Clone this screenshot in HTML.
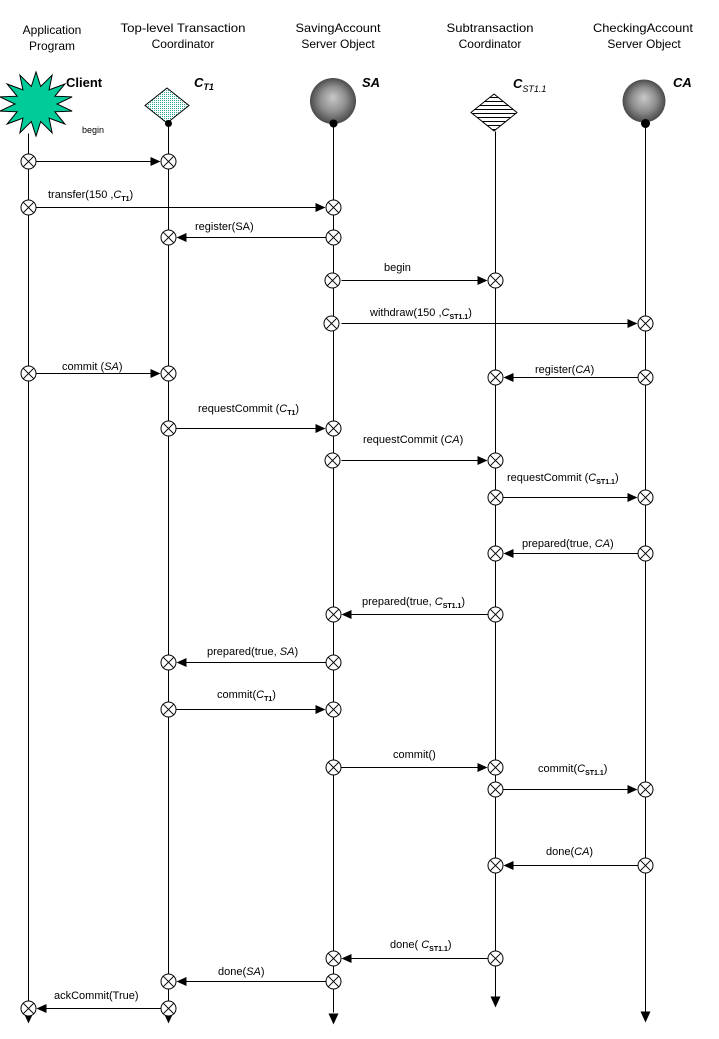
<!DOCTYPE html>
<html><head><meta charset="utf-8"><style>
html,body{margin:0;padding:0;background:#fff;}
svg{display:block;}
text{font-family:"Liberation Sans",Arial,sans-serif;fill:#000;}
.h{font-size:12px;}
.m{font-size:11px;}
.sub{font-size:7px;font-weight:bold;}
.it{font-style:italic;}
</style></head><body>
<svg width="719" height="1039" viewBox="0 0 719 1039" xmlns="http://www.w3.org/2000/svg">
<defs>
  <radialGradient id="sph" cx="0.5" cy="0.5" r="0.5" fx="0.5" fy="0.42">
    <stop offset="0" stop-color="#c8c8c8"/>
    <stop offset="0.55" stop-color="#909090"/>
    <stop offset="1" stop-color="#4a4a4a"/>
  </radialGradient>
  <pattern id="dots" width="2" height="2" patternUnits="userSpaceOnUse">
    <rect width="2" height="2" fill="#ffffff"/>
    <rect x="0" y="0" width="1" height="1" fill="#2aa890"/>
  </pattern>
  <pattern id="stripes" width="4" height="4" patternUnits="userSpaceOnUse" y="0">
    <rect width="4" height="4" fill="#ffffff"/>
    <rect x="0" y="1" width="4" height="1" fill="#000"/>
  </pattern>
  <g id="cx">
    <circle cx="0" cy="0" r="7.5" fill="#fff" stroke="#000" stroke-width="1"/>
    <line x1="-5.3" y1="-5.3" x2="5.3" y2="5.3" stroke="#000" stroke-width="1"/>
    <line x1="-5.3" y1="5.3" x2="5.3" y2="-5.3" stroke="#000" stroke-width="1"/>
  </g>
</defs>

<!-- Header labels -->
<text class="h" x="52" y="34" text-anchor="middle">Application</text>
<text class="h" x="52" y="50" text-anchor="middle">Program</text>
<text class="h" x="183" y="32" text-anchor="middle" textLength="125" lengthAdjust="spacingAndGlyphs">Top-level Transaction</text>
<text class="h" x="183" y="48" text-anchor="middle">Coordinator</text>
<text class="h" x="338" y="32" text-anchor="middle" textLength="85" lengthAdjust="spacingAndGlyphs">SavingAccount</text>
<text class="h" x="338" y="48" text-anchor="middle">Server Object</text>
<text class="h" x="490" y="32" text-anchor="middle" textLength="87" lengthAdjust="spacingAndGlyphs">Subtransaction</text>
<text class="h" x="490" y="48" text-anchor="middle">Coordinator</text>
<text class="h" x="643" y="32" text-anchor="middle" textLength="100" lengthAdjust="spacingAndGlyphs">CheckingAccount</text>
<text class="h" x="644" y="48" text-anchor="middle">Server Object</text>

<!-- Object icons -->
<polygon fill="#00cc99" stroke="#000" stroke-width="1" points="36,72 40.7,86.5 52.1,75.2 49.1,89.9 64.9,84 54.9,96.2 72.1,96.9 57,104 72.1,111.1 54.9,111.8 64.9,124 49.1,118.1 52.1,132.8 40.7,121.5 36,136 31.3,121.5 19.9,132.8 22.9,118.1 7.1,124 17.1,111.8 0,111.1 15,104 0,96.9 17.1,96.2 7.1,84 22.9,89.9 19.9,75.2 31.3,86.5"/>
<text x="66" y="87" style="font-size:13px;font-weight:bold;">Client</text>

<polygon points="167,88 189,105.5 167,123 145,105.5" fill="url(#dots)" stroke="#000" stroke-width="1"/>
<text x="194" y="87" style="font-size:13px;font-weight:bold;font-style:italic;">C<tspan dy="3" style="font-size:9px;">T1</tspan></text>

<circle cx="333" cy="101" r="23" fill="url(#sph)"/>
<text x="362" y="87" style="font-size:13px;font-weight:bold;font-style:italic;">SA</text>

<polygon points="494,94 517,112.5 494,131 471,112.5" fill="url(#stripes)" stroke="#000" stroke-width="1"/>
<text x="513" y="88" style="font-size:13px;font-weight:bold;font-style:italic;">C<tspan dy="4" style="font-size:9px;font-weight:normal;">ST1.1</tspan></text>

<circle cx="644" cy="101" r="21.5" fill="url(#sph)"/>
<text x="673" y="87" style="font-size:13px;font-weight:bold;font-style:italic;">CA</text>

<g transform="translate(0.5,0.5)">
<!-- Lifelines -->
<g stroke="#000" stroke-width="1" shape-rendering="crispEdges">
  <line x1="28" y1="133" x2="28" y2="1012"/>
  <line x1="168" y1="123" x2="168" y2="1012"/>
  <line x1="333" y1="123" x2="333" y2="1012"/>
  <line x1="495" y1="131" x2="495" y2="996"/>
  <line x1="645" y1="123" x2="645" y2="1011"/>
</g>
<circle cx="168" cy="123" r="3.5" fill="#000"/>
<circle cx="333" cy="123" r="4" fill="#000"/>
<circle cx="645" cy="123" r="4.5" fill="#000"/>

<!-- bottom arrows -->
<polygon points="28,1023 23,1012 33,1012" fill="#000"/>
<polygon points="168,1023 163,1012 173,1012" fill="#000"/>
<polygon points="333,1024 328,1013 338,1013" fill="#000"/>
<polygon points="495,1007 490,996 500,996" fill="#000"/>
<polygon points="645,1022 640,1011 650,1011" fill="#000"/>

<!-- Message lines -->
<g stroke="#000" stroke-width="1" shape-rendering="crispEdges">
  <line x1="36" y1="161" x2="150" y2="161"/>
  <line x1="36" y1="207" x2="315" y2="207"/>
  <line x1="186" y1="237" x2="325" y2="237"/>
  <line x1="341" y1="280" x2="477" y2="280"/>
  <line x1="341" y1="323" x2="627" y2="323"/>
  <line x1="36" y1="373" x2="150" y2="373"/>
  <line x1="513" y1="377" x2="637" y2="377"/>
  <line x1="176" y1="428" x2="315" y2="428"/>
  <line x1="341" y1="460" x2="477" y2="460"/>
  <line x1="503" y1="497" x2="627" y2="497"/>
  <line x1="513" y1="553" x2="637" y2="553"/>
  <line x1="351" y1="614" x2="487" y2="614"/>
  <line x1="186" y1="662" x2="325" y2="662"/>
  <line x1="176" y1="709" x2="315" y2="709"/>
  <line x1="341" y1="767" x2="477" y2="767"/>
  <line x1="503" y1="789" x2="627" y2="789"/>
  <line x1="513" y1="865" x2="637" y2="865"/>
  <line x1="351" y1="958" x2="487" y2="958"/>
  <line x1="186" y1="981" x2="325" y2="981"/>
  <line x1="46" y1="1008" x2="160" y2="1008"/>
</g>

<!-- Arrowheads -->
<g fill="#000">
  <polygon points="160,161 150,156.5 150,165.5"/>
  <polygon points="325,207 315,202.5 315,211.5"/>
  <polygon points="176,237 186,232.5 186,241.5"/>
  <polygon points="487,280 477,275.5 477,284.5"/>
  <polygon points="637,323 627,318.5 627,327.5"/>
  <polygon points="160,373 150,368.5 150,377.5"/>
  <polygon points="503,377 513,372.5 513,381.5"/>
  <polygon points="325,428 315,423.5 315,432.5"/>
  <polygon points="487,460 477,455.5 477,464.5"/>
  <polygon points="637,497 627,492.5 627,501.5"/>
  <polygon points="503,553 513,548.5 513,557.5"/>
  <polygon points="341,614 351,609.5 351,618.5"/>
  <polygon points="176,662 186,657.5 186,666.5"/>
  <polygon points="325,709 315,704.5 315,713.5"/>
  <polygon points="487,767 477,762.5 477,771.5"/>
  <polygon points="637,789 627,784.5 627,793.5"/>
  <polygon points="503,865 513,860.5 513,869.5"/>
  <polygon points="341,958 351,953.5 351,962.5"/>
  <polygon points="176,981 186,976.5 186,985.5"/>
  <polygon points="36,1008 46,1003.5 46,1012.5"/>
</g>

<!-- Circles -->
<use href="#cx" x="28" y="161"/><use href="#cx" x="168" y="161"/>
<use href="#cx" x="28" y="207"/><use href="#cx" x="333" y="207"/>
<use href="#cx" x="333" y="237"/><use href="#cx" x="168" y="237"/>
<use href="#cx" x="332" y="280"/><use href="#cx" x="495" y="280"/>
<use href="#cx" x="331" y="323"/><use href="#cx" x="645" y="323"/>
<use href="#cx" x="28" y="373"/><use href="#cx" x="168" y="373"/>
<use href="#cx" x="645" y="377"/><use href="#cx" x="495" y="377"/>
<use href="#cx" x="168" y="428"/><use href="#cx" x="333" y="428"/>
<use href="#cx" x="332" y="460"/><use href="#cx" x="495" y="460"/>
<use href="#cx" x="495" y="497"/><use href="#cx" x="645" y="497"/>
<use href="#cx" x="645" y="553"/><use href="#cx" x="495" y="553"/>
<use href="#cx" x="495" y="614"/><use href="#cx" x="333" y="614"/>
<use href="#cx" x="333" y="662"/><use href="#cx" x="168" y="662"/>
<use href="#cx" x="168" y="709"/><use href="#cx" x="333" y="709"/>
<use href="#cx" x="333" y="767"/><use href="#cx" x="495" y="767"/>
<use href="#cx" x="495" y="789"/><use href="#cx" x="645" y="789"/>
<use href="#cx" x="645" y="865"/><use href="#cx" x="495" y="865"/>
<use href="#cx" x="495" y="958"/><use href="#cx" x="333" y="958"/>
<use href="#cx" x="333" y="981"/><use href="#cx" x="168" y="981"/>
<use href="#cx" x="168" y="1008"/><use href="#cx" x="28" y="1008"/>
</g>

<!-- Message labels -->
<text x="82" y="133" style="font-size:9px;">begin</text>
<text class="m" x="48" y="198">transfer(150 ,<tspan class="it">C</tspan><tspan class="sub" dy="3">T1</tspan><tspan dy="-3">)</tspan></text>
<text class="m" x="195" y="230">register(SA)</text>
<text class="m" x="384" y="271">begin</text>
<text class="m" x="370" y="316">withdraw(150 ,<tspan class="it">C</tspan><tspan class="sub" dy="3">ST1.1</tspan><tspan dy="-3">)</tspan></text>
<text class="m" x="62" y="370">commit (<tspan class="it">SA</tspan>)</text>
<text class="m" x="535" y="373">register(<tspan class="it">CA</tspan>)</text>
<text class="m" x="198" y="412">requestCommit (<tspan class="it">C</tspan><tspan class="sub" dy="3">T1</tspan><tspan dy="-3">)</tspan></text>
<text class="m" x="363" y="443">requestCommit (<tspan class="it">CA</tspan>)</text>
<text class="m" x="507" y="481">requestCommit (<tspan class="it">C</tspan><tspan class="sub" dy="3">ST1.1</tspan><tspan dy="-3">)</tspan></text>
<text class="m" x="522" y="547">prepared(true, <tspan class="it">CA</tspan>)</text>
<text class="m" x="362" y="605">prepared(true, <tspan class="it">C</tspan><tspan class="sub" dy="3">ST1.1</tspan><tspan dy="-3">)</tspan></text>
<text class="m" x="207" y="655">prepared(true, <tspan class="it">SA</tspan>)</text>
<text class="m" x="217" y="698">commit(<tspan class="it">C</tspan><tspan class="sub" dy="3">T1</tspan><tspan dy="-3">)</tspan></text>
<text class="m" x="393" y="758">commit()</text>
<text class="m" x="538" y="772">commit(<tspan class="it">C</tspan><tspan class="sub" dy="3">ST1.1</tspan><tspan dy="-3">)</tspan></text>
<text class="m" x="546" y="855">done(<tspan class="it">CA</tspan>)</text>
<text class="m" x="390" y="948">done( <tspan class="it">C</tspan><tspan class="sub" dy="3">ST1.1</tspan><tspan dy="-3">)</tspan></text>
<text class="m" x="218" y="975">done(<tspan class="it">SA</tspan>)</text>
<text class="m" x="54" y="999">ackCommit(True)</text>
</svg>
</body></html>
